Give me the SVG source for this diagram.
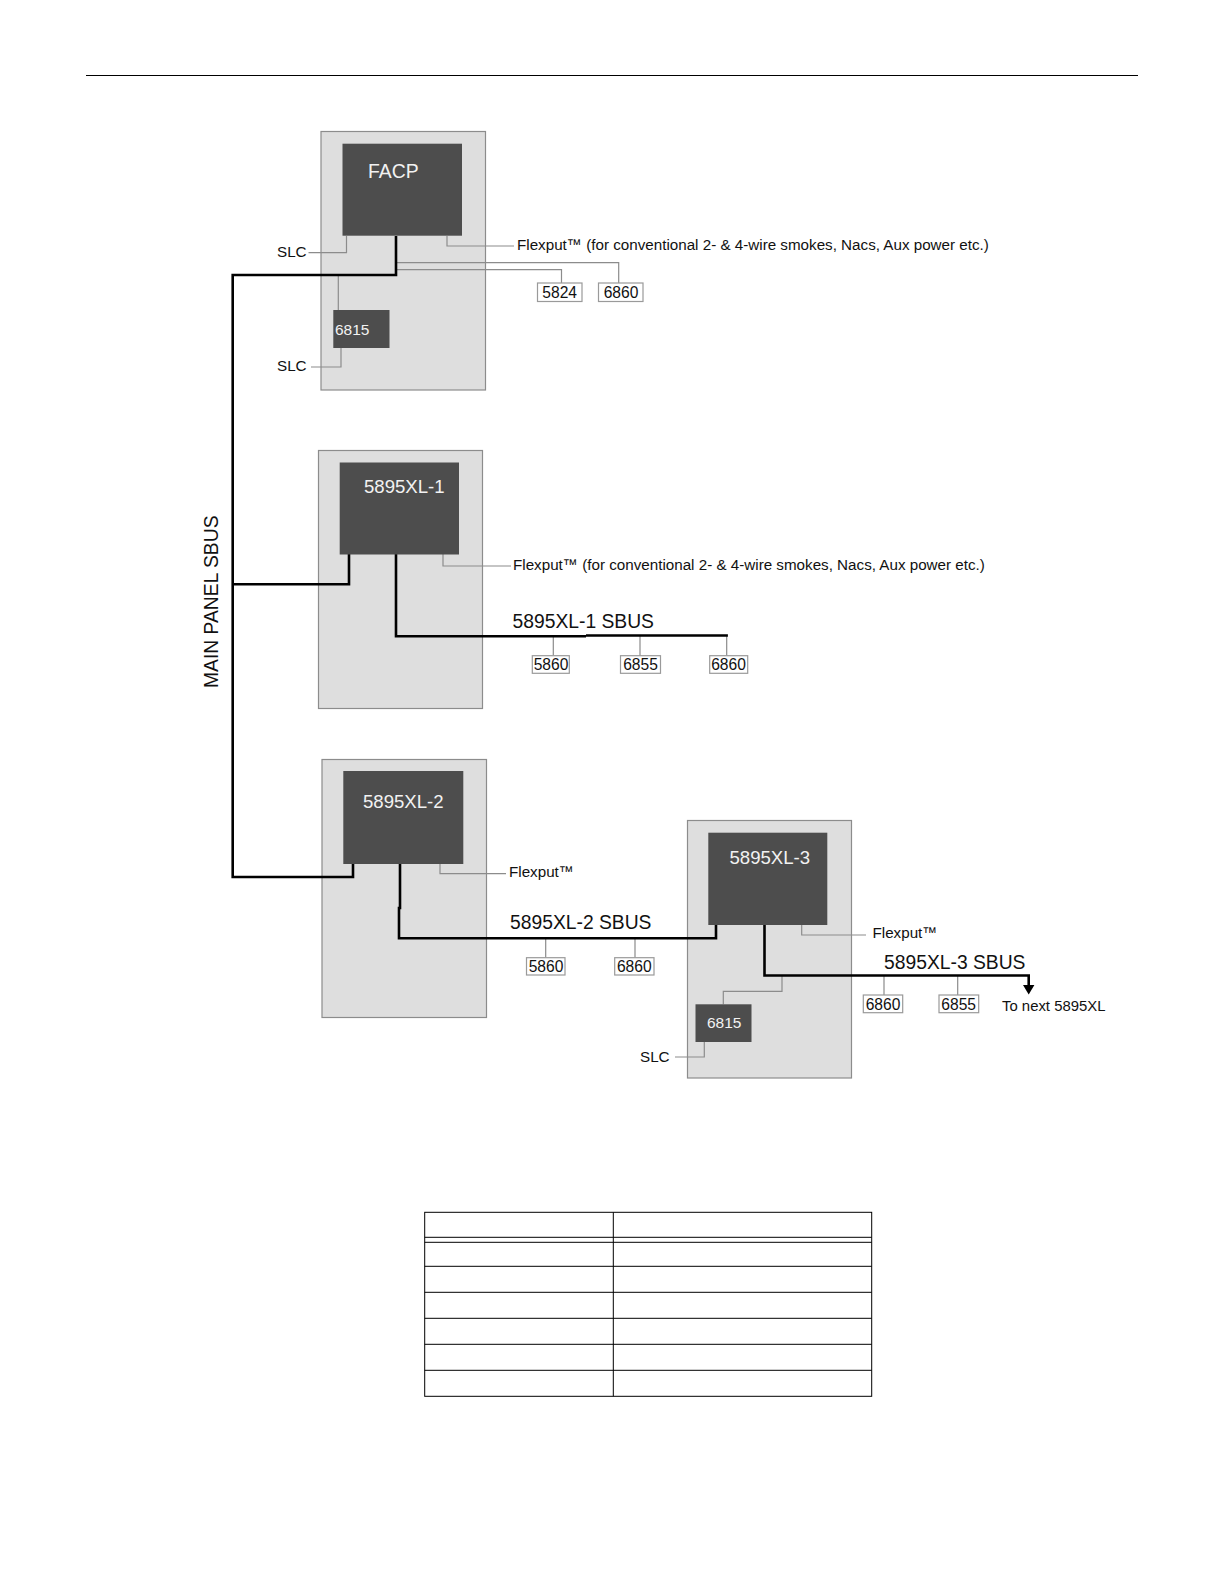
<svg xmlns="http://www.w3.org/2000/svg" width="1224" height="1584" viewBox="0 0 1224 1584">
<style>
text{font-family:"Liberation Sans",Arial,sans-serif;fill:#111}
.panel{fill:#dedede;stroke:#8c8c8c;stroke-width:1.2}
.box{fill:#4d4d4d}
.dev{fill:#fff;stroke:#9a9a9a;stroke-width:1.2}
.thick{fill:none;stroke:#000;stroke-width:2.6}
.thin{fill:none;stroke:#8c8c8c;stroke-width:1.2}
.tbl{fill:none;stroke:#000;stroke-width:1}
.l{font-size:15.2px}
.d{font-size:15.6px;text-anchor:middle}
.b{font-size:19.3px}
.n{font-size:19.3px}
text.w{fill:#f2f2f2}
</style>
<rect width="1224" height="1584" fill="#fff"/>
<path d="M86 75.5H1138" stroke="#000" stroke-width="1" fill="none"/>
<g id="panels">
<rect id="panel-facp" class="panel" x="321" y="131.5" width="164.5" height="258.5"/>
<rect id="panel-1" class="panel" x="318.5" y="450.5" width="164" height="258"/>
<rect id="panel-2" class="panel" x="322" y="759.5" width="164.5" height="258"/>
<rect id="panel-3" class="panel" x="687.5" y="820.5" width="164" height="257.5"/>
</g>
<g id="connectors">
<path class="thin" d="M346.5 236V252.7H308.5M447 236V246H514M396 262.7H618.7V283M396 269.7H561.5V283M338.3 275V310M341 348V367H311"/>
<path class="thin" d="M443 554V566H511M553.3 636V655.7M640 636V655.7M726.7 636V655.7"/>
<path class="thin" d="M440 864V873.7H506M545.7 938V957.7M635 938V957.7"/>
<path class="thin" d="M801.7 925V935H866M782 975.5V991.3H723.3V1004.3M704.3 1042V1057H675M884 975.5V995M957.7 975.5V995"/>
<path class="thick" d="M396 236V275H232.7V877H353V864M232.7 584.3H349V554"/>
<path class="thick" d="M396 554V636.3H586M586 635.5H727.9"/>
<path class="thick" d="M400 864V908H399V938.3H716V925"/>
<path class="thick" d="M764.5 925V975.5H1028.7V986"/>
<polygon points="1023,985 1034.4,985 1028.7,994.5" fill="#000"/>
</g>
<g id="facp"><rect class="box" x="342.5" y="143.7" width="119.5" height="92"/><text class="w" x="368" y="178" font-size="19.4">FACP</text></g>
<g id="m6815a"><rect class="box" x="333.3" y="310" width="56.2" height="38"/><text class="w" x="335" y="335" font-size="15.5">6815</text></g>
<g id="xl1"><rect class="box" x="339.7" y="462.5" width="119.3" height="92"/><text class="w" x="364" y="493" font-size="18.6">5895XL-1</text></g>
<g id="xl2"><rect class="box" x="343.3" y="771" width="120" height="93"/><text class="w" x="363" y="808" font-size="18.6">5895XL-2</text></g>
<g id="xl3"><rect class="box" x="708.3" y="832.7" width="119" height="92.3"/><text class="w" x="729.5" y="863.5" font-size="18.6">5895XL-3</text></g>
<g id="m6815b"><rect class="box" x="695.5" y="1004.3" width="56" height="37.7"/><text class="w" x="707" y="1028" font-size="15.5">6815</text></g>
<g id="d5824"><rect class="dev" x="537.5" y="283" width="44.5" height="18.5"/><text class="d" x="559.7" y="298">5824</text></g>
<g id="d6860a"><rect class="dev" x="598.5" y="283" width="44.5" height="18.5"/><text class="d" x="621" y="298">6860</text></g>
<g id="d5860a"><rect class="dev" x="532.3" y="655.7" width="37" height="17.6"/><text class="d" x="551" y="670">5860</text></g>
<g id="d6855a"><rect class="dev" x="620.5" y="655.7" width="40" height="17.6"/><text class="d" x="640.5" y="670">6855</text></g>
<g id="d6860b"><rect class="dev" x="709.7" y="655.7" width="38" height="17.6"/><text class="d" x="728.5" y="670">6860</text></g>
<g id="d5860b"><rect class="dev" x="526.5" y="957.7" width="38.5" height="17.3"/><text class="d" x="546" y="971.5">5860</text></g>
<g id="d6860c"><rect class="dev" x="614.7" y="957.7" width="39.3" height="17.3"/><text class="d" x="634.3" y="971.5">6860</text></g>
<g id="d6860d"><rect class="dev" x="863.3" y="995" width="39.4" height="17.7"/><text class="d" x="883" y="1009.5">6860</text></g>
<g id="d6855b"><rect class="dev" x="939" y="995" width="39.7" height="17.7"/><text class="d" x="958.7" y="1009.5">6855</text></g>
<g id="labels">
<text class="l" x="277" y="257">SLC</text>
<text class="l" x="277" y="371">SLC</text>
<text class="l" x="640" y="1062">SLC</text>
<text class="l" x="517" y="250">Flexput™ (for conventional 2- &amp; 4-wire smokes, Nacs, Aux power etc.)</text>
<text class="l" x="513" y="570">Flexput™ (for conventional 2- &amp; 4-wire smokes, Nacs, Aux power etc.)</text>
<text class="l" x="509" y="877">Flexput™</text>
<text class="l" x="872.5" y="938">Flexput™</text>
<text class="b" x="512.5" y="628.3">5895XL-1 SBUS</text>
<text class="b" x="510" y="929">5895XL-2 SBUS</text>
<text class="b" x="884" y="969">5895XL-3 SBUS</text>
<text x="1002" y="1011" font-size="14.9">To next 5895XL</text>
<text class="n" transform="translate(217.5 688) rotate(-90)">MAIN PANEL SBUS</text>
</g>
<g id="table" class="tbl">
<rect x="424.7" y="1212.3" width="447" height="184"/>
<path d="M613.3 1212.3V1396.3M424.7 1237.3H871.7M424.7 1242.3H871.7M424.7 1266.3H871.7M424.7 1292.3H871.7M424.7 1318.3H871.7M424.7 1344.3H871.7M424.7 1370.3H871.7"/>
</g>
</svg>
